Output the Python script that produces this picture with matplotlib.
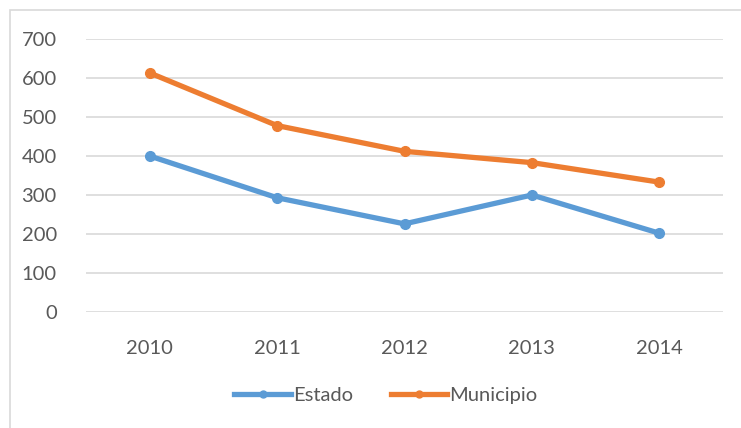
import matplotlib
matplotlib.use("Agg")
import matplotlib.pyplot as plt
from matplotlib.patches import Rectangle
from matplotlib.lines import Line2D

years = ["2010", "2011", "2012", "2013", "2014"]
estado = [400, 293, 226, 300, 202]
municipio = [613, 478, 412, 383, 333]
yticks = [0, 100, 200, 300, 400, 500, 600, 700]

W, H = 741, 428
fig = plt.figure(figsize=(W / 100, H / 100), dpi=100)
plt.rcParams['font.family'] = ['Lato', 'DejaVu Sans']

# chart border
fig.patches.append(Rectangle((10 / W, -0.1), 1.2, (H - 10) / H + 0.1,
                             transform=fig.transFigure, fill=False,
                             edgecolor='#D9D9D9', linewidth=1.2))

ax = fig.add_axes([86 / W, 1 - 312 / H, (723 - 86) / W, (312 - 39) / H])
x = list(range(len(years)))
ax.plot(x, estado, color='#5B9BD5', lw=3.8, marker='o', ms=7, label='Estado',
        solid_capstyle='round', zorder=3)
ax.plot(x, municipio, color='#ED7D31', lw=3.8, marker='o', ms=7, label='Municipio',
        solid_capstyle='round', zorder=3)

ax.set_xlim(-0.5, len(years) - 0.5)
ax.set_ylim(0, 700)
ax.set_yticks(yticks)
ax.set_xticks(x)
ax.set_xticklabels(years)
ax.yaxis.grid(True, color='#D9D9D9', lw=1.2)
ax.set_axisbelow(True)
for s in ax.spines.values():
    s.set_visible(False)
ax.tick_params(length=0, labelsize=14.5, colors='#595959')
ax.tick_params(axis='y', pad=21)
ax.tick_params(axis='x', pad=20)

handles = [Line2D([0], [0], color='#5B9BD5', lw=3.8, marker='o', ms=5),
           Line2D([0], [0], color='#ED7D31', lw=3.8, marker='o', ms=5)]
leg = fig.legend(handles, ['Estado', 'Municipio'], loc='center',
                 bbox_to_anchor=(386 / W, 1 - 395 / H), ncol=2, frameon=False,
                 fontsize=14.5, handlelength=2.8, handletextpad=0.1,
                 columnspacing=1.9)
for t in leg.get_texts():
    t.set_color('#595959')

fig.savefig('out.png', dpi=100)
